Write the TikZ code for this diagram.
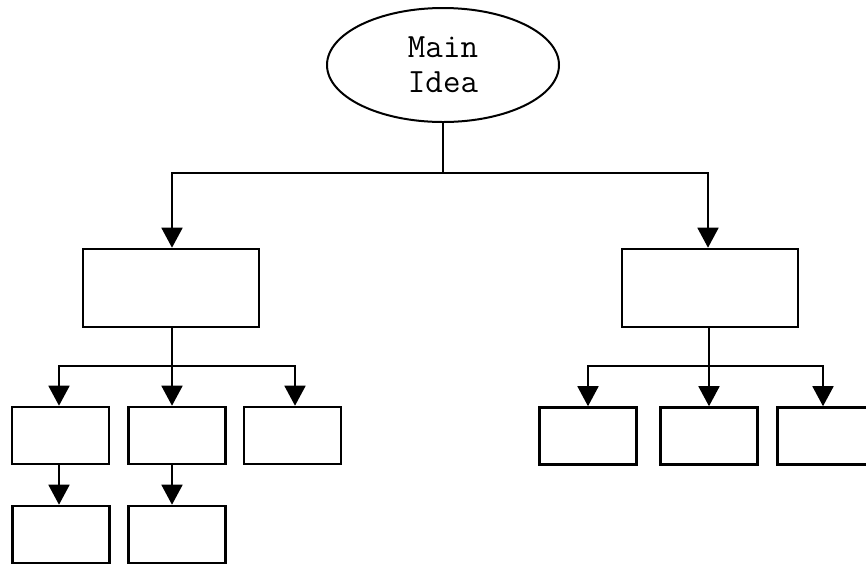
\documentclass[tikz,border=0pt]{standalone}
\usetikzlibrary{arrows.meta,shapes.geometric,calc}
\tikzset{
    idea/.style =   {ellipse,
                    draw=black,
                    line width=2pt,
                    inner sep=0pt,
                    minimum width=232pt,
                    minimum height=114pt,
                    align=center,
                    font=\ttfamily\fontsize{34}{35}\selectfont},
    topic/.style =  {rectangle,
                    draw=black,
                    line width=2.6pt,
                    minimum width=176pt,
                    minimum height=78pt},
    leaf/.style =   {rectangle,
                    draw=black,
                    line width=2.6pt,
                    minimum width=97pt,
                    minimum height=57pt},
    link/.style =   {draw=black,
                    line width=1.8pt},
    >={Triangle[length=20pt,width=21pt]}}
\begin{document}
\begin{tikzpicture}[x=1pt,y=-1pt]
    \useasboundingbox (0,0) rectangle (866,566);
    % main idea and the two topics
    \node[idea]  (main)  at (443,65)    {Main\\Idea};
    \node[topic] (left)  at (171,288)   {};
    \node[topic] (right) at (710,288)   {};
    % details under the left topic
    \node[leaf]  (l1)    at (60.5,435.5) {};
    \node[leaf]  (l2)    at (177,435.5)  {};
    \node[leaf]  (l3)    at (292.5,435.5) {};
    \node[leaf]  (l1b)   at (61,534.5)   {};
    \node[leaf]  (l2b)   at (177,534.5)  {};
    % details under the right topic
    \node[leaf]  (r1)    at (588,436)    {};
    \node[leaf]  (r2)    at (709,436)    {};
    \node[leaf]  (r3)    at (826,436)    {};
    % junctions
    \coordinate (jm) at (443,173);
    \coordinate (jl) at (172,366);
    \coordinate (jr) at (709,366);
    \path [link]    (main.south) edge (jm)
                    (left.south -| jl) edge (jl)
                    (right.south -| jr) edge (jr);
    \draw [link,->] (jm) -| ([xshift=1pt]left.north);
    \draw [link,->] (jm) -| ([xshift=-2pt]right.north);
    \draw [link,->] (jl) -| ([xshift=-1.5pt]l1.north);
    \draw [link,->] (jl) -- ([xshift=-5pt]l2.north);
    \draw [link,->] (jl) -| ([xshift=2.5pt]l3.north);
    \draw [link,->] (jr) -| (r1.north);
    \draw [link,->] (jr) -- (r2.north);
    \draw [link,->] (jr) -| ([xshift=-3pt]r3.north);
    \draw [link,->] ([xshift=-1.5pt]l1.south) -- ([xshift=-2pt]l1b.north);
    \draw [link,->] ([xshift=-5pt]l2.south) -- ([xshift=-5pt]l2b.north);
\end{tikzpicture}
\end{document}
